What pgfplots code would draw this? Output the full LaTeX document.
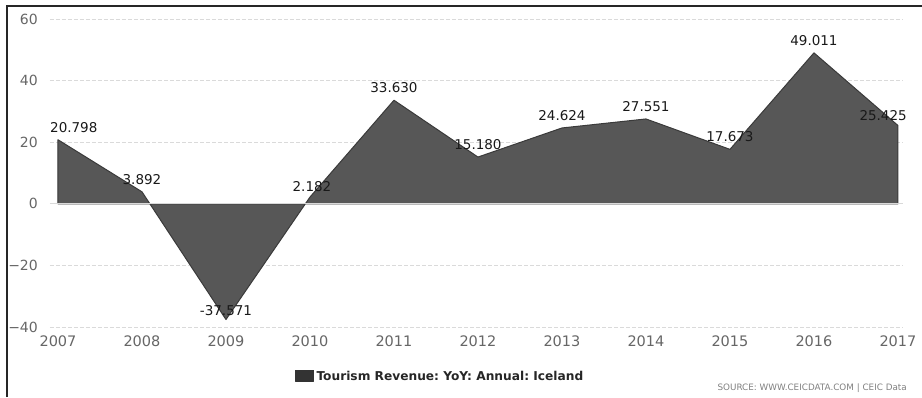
\documentclass[border=0pt]{standalone}
\usepackage{pgfplots}
\pgfplotsset{compat=1.18}
\usepackage{fontspec}
\setmainfont{DejaVu Sans}
\frenchspacing
\definecolor{areafill}{HTML}{575757}
\definecolor{areaedge}{HTML}{3A3A3A}
\definecolor{swatch}{HTML}{333333}
\definecolor{ticktext}{HTML}{666666}
\definecolor{gridc}{HTML}{DADADA}
\begin{document}
\begin{tikzpicture}[x=1pt,y=1pt]
\path[use as bounding box] (0,0) rectangle (922,397);
\draw[line width=2pt, color=black!85] (7,0) -- (7,391) -- (922,391);
\begin{axis}[
  at={(50pt,70pt)}, anchor=south west,
  scale only axis, width=853pt, height=308pt,
  xmin=2006.905, xmax=2017.06, ymin=-40, ymax=60,
  axis line style={draw=none}, tick style={draw=none},
  xtick={2007,2008,2009,2010,2011,2012,2013,2014,2015,2016,2017},
  xticklabels={2007,2008,2009,2010,2011,2012,2013,2014,2015,2016,2017},
  ytick={-40,-20,0,20,40,60},
  yticklabels={−40,−20,0,20,40,60},
  ymajorgrids,
  grid style={color=gridc, dash pattern=on 4pt off 2pt, line width=0.9pt},
  x tick label style={font=\fontsize{14.5}{16}\selectfont, text=ticktext, anchor=north, inner sep=0pt, yshift=-9pt},
  y tick label style={font=\fontsize{14}{16}\selectfont, text=ticktext, anchor=east, inner sep=0pt, xshift=-12pt},
  legend style={at={(0.287,-0.159)}, anchor=west, draw=none, fill=none, inner sep=0pt,
    font=\fontsize{12.2}{14}\selectfont\bfseries, text=black!85, nodes={inner sep=0pt, inner xsep=2.5pt, text depth=0pt}},
  legend cell align=left,
  legend image code/.code={\fill[swatch] (0pt,-5.5pt) rectangle (18pt,5.5pt);},
  every node near coord/.append style={font=\fontsize{13.5}{15}\selectfont, text=black!90, inner sep=0pt},
  clip=false,
]
\addplot[fill=areafill, draw=areaedge, line width=1pt, line join=round] coordinates {
  (2007,0) (2007,20.798) (2008,3.892) (2009,-37.571) (2010,2.182) (2011,33.630)
  (2012,15.180) (2013,24.624) (2014,27.551) (2015,17.673) (2016,49.011) (2017,25.425) (2017,0)
} -- cycle;
\addlegendentry{Tourism Revenue: YoY: Annual: Iceland}
\draw[color=white!85!black, line width=0.9pt] (axis cs:2006.905,0) -- (axis cs:2017.06,0);
\pgfplotsset{mylabels/.style={draw=none, mark=none, forget plot,
  nodes near coords={\pgfmathprintnumber[fixed, fixed zerofill, precision=3, assume math mode=true]{\pgfplotspointmeta}}}}
\addplot[mylabels, every node near coord/.append style={anchor=south, yshift=7pt}] coordinates {
  (2008,3.892) (2011,33.630) (2012,15.180) (2013,24.624) (2014,27.551) (2015,17.673) (2016,49.011)
};
\addplot[mylabels, every node near coord/.append style={anchor=south, yshift=5pt, xshift=2pt}] coordinates {
  (2010,2.182)
};
\addplot[mylabels, every node near coord/.append style={anchor=south, yshift=4pt}] coordinates {
  (2009,-37.571)
};
\addplot[mylabels, every node near coord/.append style={anchor=south west, yshift=7pt, xshift=-8pt}] coordinates {
  (2007,20.798)
};
\addplot[mylabels, every node near coord/.append style={anchor=south east, yshift=5pt, xshift=9pt}] coordinates {
  (2017,25.425)
};
\end{axis}
\node[anchor=south east, inner sep=0pt, font=\fontsize{8.8}{10}\selectfont, text=black!50] at (907,4) {SOURCE: WWW.CEICDATA.COM | CEIC Data};
\end{tikzpicture}
\end{document}
